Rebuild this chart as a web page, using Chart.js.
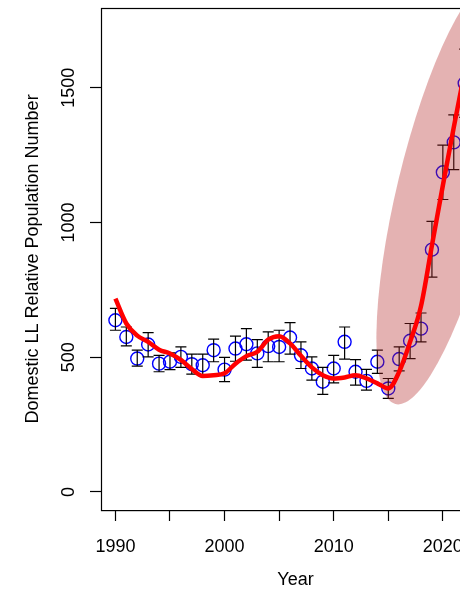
<!DOCTYPE html>
<html>
<head>
<meta charset="utf-8">
<script src="https://cdn.jsdelivr.net/npm/chart.js@4/dist/chart.umd.min.js"></script>
<style>
  html, body { margin:0; padding:0; background:#fff; overflow:hidden; }
  #wrap { width:460px; height:591px; overflow:hidden; }
</style>
</head>
<body>
<div id="wrap"><canvas id="popChart" width="530" height="591"></canvas></div>
<script>
// yearly index with error bars, loess-like smooth line, shaded ellipse over the recent rise

const years = [1990,1991,1992,1993,1994,1995,1996,1997,1998,1999,
               2000,2001,2002,2003,2004,2005,2006,2007,2008,2009,
               2010,2011,2012,2013,2014,2015,2016,2017,2018,2019,
               2020,2021,2022,2023];
const indexValues = [637,575,495,547,476,483,501,474,470,526,
                     454,532,548,514,541,538,573,507,458,409,
                     458,557,446,412,483,384,493,561,606,899,
                     1186,1297,1516,1600];
const upperValues = [681,612,526,591,507,516,538,511,511,567,
                     499,578,606,565,594,600,628,557,501,462,
                     507,612,491,455,526,421,538,625,664,1004,
                     1287,1399,1643,1727];
const lowerValues = [600,542,467,501,446,454,462,437,433,483,
                     409,485,489,462,483,483,511,458,415,362,
                     405,493,396,378,440,347,449,495,557,797,
                     1085,1196,1390,1480];
const smoothValues = [717,625,580,557,528,514,490,456,430,433,
                      440,476,504,520,565,578,551,505,462,433,
                      421,425,433,421,403,384,446,557,690,915,
                      1137,1353,1560,1760];

const yTickValues = [0,500,1000,1500];
const xLabelYears = [1990,2000,2010,2020];

// ellipse in data units: centre, end of long axis, end of short axis
const ellipseCenter = [2020.35, 1116];
const ellipseTip = [2015.65, 326];
const ellipseSide = [2024.75, 1071];

const fontFamily = '"Liberation Sans", Arial, sans-serif';

const overlayPlugin = {
  id: 'overlay',
  afterDatasetDraw(chart, args){
    if(args.index !== 1) return;
    const {ctx, chartArea} = chart;
    const xs = chart.scales.x, ys = chart.scales.y;

    // error bars
    ctx.save();
    ctx.strokeStyle = '#000';
    ctx.lineWidth = 1.2;
    for(let i=0;i<years.length;i++){
      const px = xs.getPixelForValue(years[i]);
      const top = ys.getPixelForValue(upperValues[i]);
      const bot = ys.getPixelForValue(lowerValues[i]);
      ctx.beginPath();
      ctx.moveTo(px, top); ctx.lineTo(px, bot);
      ctx.moveTo(px-5.5, top); ctx.lineTo(px+5.5, top);
      ctx.moveTo(px-5.5, bot); ctx.lineTo(px+5.5, bot);
      ctx.stroke();
    }
    ctx.restore();

    // shaded ellipse
    const cx = xs.getPixelForValue(ellipseCenter[0]);
    const cy = ys.getPixelForValue(ellipseCenter[1]);
    const ax = xs.getPixelForValue(ellipseTip[0]) - cx;
    const ay = ys.getPixelForValue(ellipseTip[1]) - cy;
    const bx = xs.getPixelForValue(ellipseSide[0]) - cx;
    const by = ys.getPixelForValue(ellipseSide[1]) - cy;
    ctx.save();
    ctx.beginPath();
    ctx.rect(chartArea.left, chartArea.top, chartArea.right-chartArea.left, chartArea.bottom-chartArea.top);
    ctx.clip();
    ctx.save();
    ctx.transform(ax, ay, bx, by, cx, cy);
    ctx.beginPath();
    ctx.arc(0, 0, 1, 0, Math.PI*2);
    ctx.restore();
    ctx.fillStyle = 'rgba(178,34,34,0.35)';
    ctx.fill();
    ctx.restore();
  },
  afterDraw(chart){
    const {ctx, chartArea} = chart;
    ctx.save();
    ctx.strokeStyle = '#000';
    ctx.lineWidth = 1.2;
    ctx.strokeRect(Math.round(chartArea.left)+0.5, Math.round(chartArea.top)+0.5,
                   chartArea.right-chartArea.left, chartArea.bottom-chartArea.top);
    ctx.restore();
  }
};

new Chart(document.getElementById('popChart').getContext('2d'), {
  type: 'scatter',
  data: {
    datasets: [
      {
        type: 'line',
        data: years.map((y,i)=>({x:y, y:smoothValues[i]})),
        borderColor: '#ff0000',
        borderWidth: 4.5,
        pointRadius: 0,
        cubicInterpolationMode: 'monotone',
        fill: false,
        order: 0
      },
      {
        data: years.map((y,i)=>({x:y, y:indexValues[i]})),
        pointStyle: 'circle',
        pointRadius: 6.5,
        borderColor: '#0000ff',
        backgroundColor: 'rgba(0,0,0,0)',
        borderWidth: 1.4,
        order: 1
      }
    ]
  },
  options: {
    responsive: false,
    animation: false,
    devicePixelRatio: 1,
    layout: { padding: { top: 7, right: 40, left: 0, bottom: 0 } },
    plugins: { legend: {display:false}, tooltip: {enabled:false} },
    scales: {
      x: {
        type: 'linear',
        min: 1988.68,
        max: 2024.32,
        afterFit: s => { s.height = 81; s.paddingLeft = 0; s.paddingRight = 0; },
        border: { display: false },
        grid: { drawOnChartArea: false, drawTicks: true, tickLength: 11, tickColor: '#000', tickWidth: 1.2 },
        ticks: {
          stepSize: 5,
          includeBounds: false,
          autoSkip: false,
          maxRotation: 0,
          padding: 15,
          color: '#000',
          font: { family: fontFamily, size: 18 },
          callback: v => xLabelYears.includes(v) ? String(v) : ''
        },
        title: {
          display: true, text: 'Year', color: '#000',
          font: { family: fontFamily, size: 18, lineHeight: 1 },
          padding: { top: 0, bottom: 2 }
        }
      },
      y: {
        type: 'linear',
        min: -67,
        max: 1796,
        afterFit: s => { s.width = 101; s.paddingTop = 0; s.paddingBottom = 0; },
        afterBuildTicks: s => { s.ticks = yTickValues.map(v => ({value: v})); },
        border: { display: false },
        grid: { drawOnChartArea: false, drawTicks: true, tickLength: 11, tickColor: '#000', tickWidth: 1.2 },
        ticks: {
          minRotation: 90,
          maxRotation: 90,
          crossAlign: 'center',
          padding: 1,
          color: '#000',
          font: { family: fontFamily, size: 18 },
          callback: v => String(v)
        },
        title: {
          display: true, text: 'Domestic LL Relative Population Number', color: '#000',
          font: { family: fontFamily, size: 18, lineHeight: 1 },
          padding: { top: 24, bottom: 0 }
        }
      }
    }
  },
  plugins: [overlayPlugin]
});
</script>
</body>
</html>
